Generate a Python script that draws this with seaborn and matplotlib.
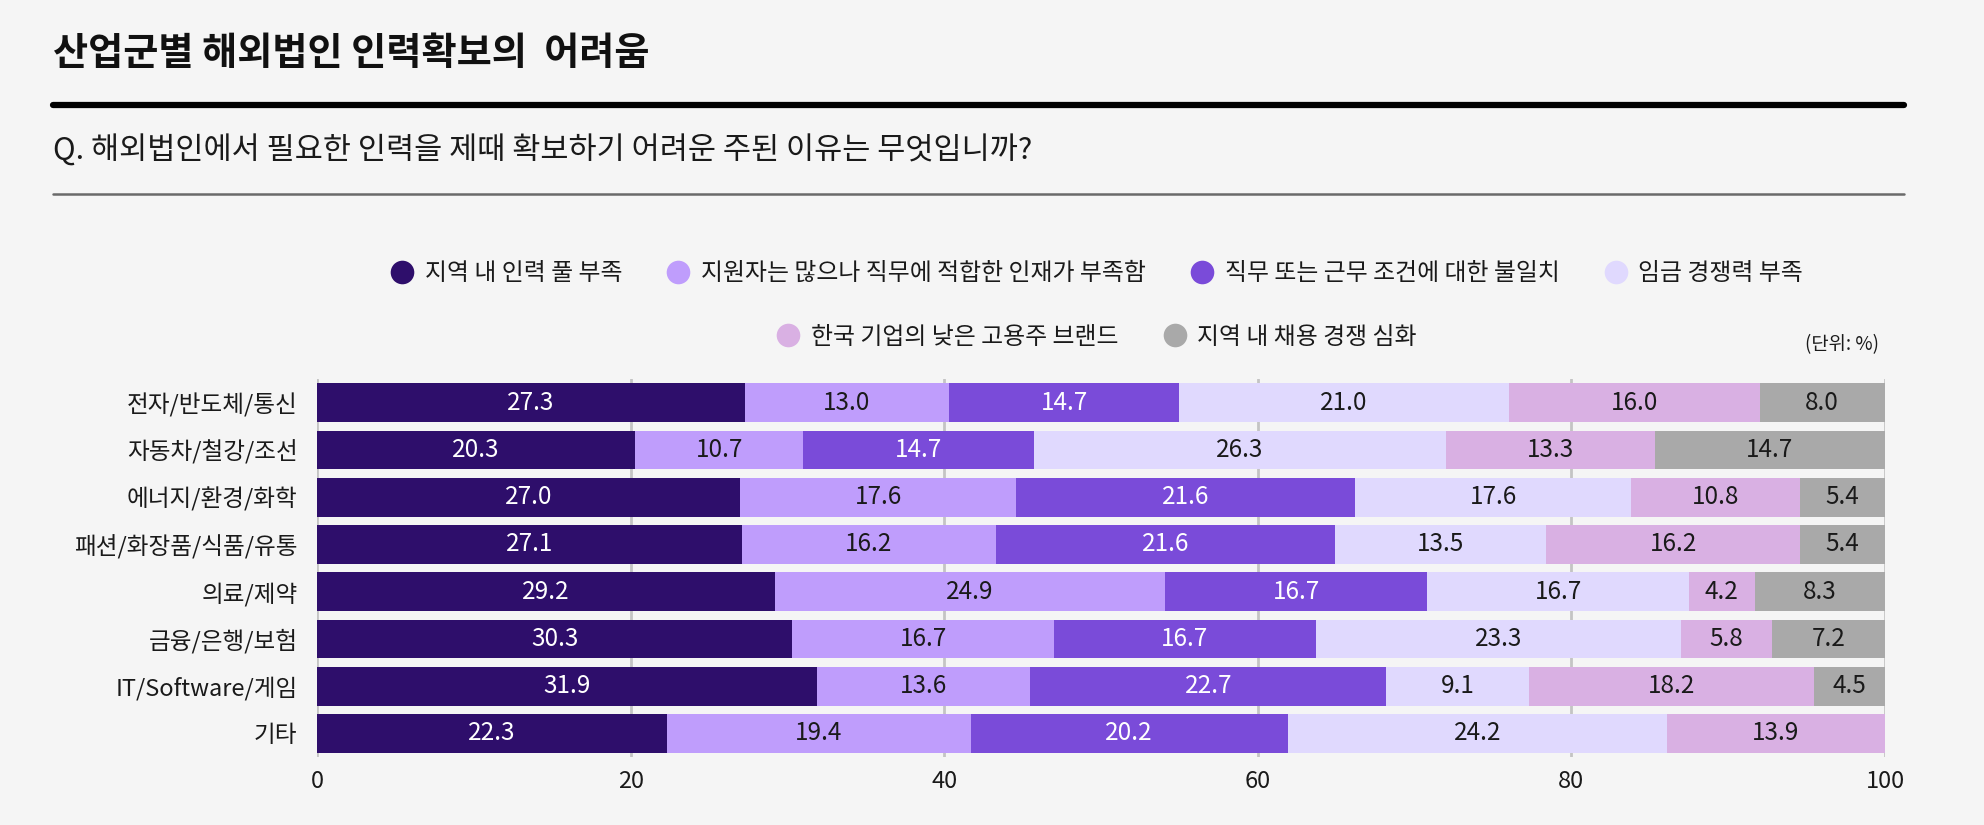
import numpy as np
import pandas as pd
import matplotlib
matplotlib.use("Agg")
import matplotlib.pyplot as plt
from matplotlib.lines import Line2D
import seaborn as sns

# 데이터
industries = ["전자/반도체/통신", "자동차/철강/조선", "에너지/환경/화학", "패션/화장품/식품/유통",
              "의료/제약", "금융/은행/보험", "IT/Software/게임", "기타"]
reasons = ["지역 내 인력 풀 부족", "지원자는 많으나 직무에 적합한 인재가 부족함",
           "직무 또는 근무 조건에 대한 불일치", "임금 경쟁력 부족",
           "한국 기업의 낮은 고용주 브랜드", "지역 내 채용 경쟁 심화"]
pool_shortage = [27.3, 20.3, 27.0, 27.1, 29.2, 30.3, 31.9, 22.3]
skill_mismatch = [13.0, 10.7, 17.6, 16.2, 24.9, 16.7, 13.6, 19.4]
job_mismatch = [14.7, 14.7, 21.6, 21.6, 16.7, 16.7, 22.7, 20.2]
wage_gap = [21.0, 26.3, 17.6, 13.5, 16.7, 23.3, 9.1, 24.2]
weak_brand = [16.0, 13.3, 10.8, 16.2, 4.2, 5.8, 18.2, 13.9]
competition = [8.0, 14.7, 5.4, 5.4, 8.3, 7.2, 4.5, 0.0]
x_ticks = [0, 20, 40, 60, 80, 100]

colors = ["#2E0E6B", "#BF9DFC", "#7A4BD9", "#E0D9FE", "#D9B0E3", "#A9A9A9"]
text_colors = ["white", "#1a1a1a", "white", "#1a1a1a", "#1a1a1a", "#1a1a1a"]

series = [pool_shortage, skill_mismatch, job_mismatch, wage_gap, weak_brand, competition]
df = pd.DataFrame({r: s for r, s in zip(reasons, series)}, index=industries)
cum = df.cumsum(axis=1)

sns.set_theme(style="white")
plt.rcParams["font.family"] = ["Noto Sans CJK KR", "DejaVu Sans"]
bg = "#F5F5F5"

fig = plt.figure(figsize=(19.84, 8.25), dpi=100, facecolor=bg)
ax = fig.add_axes([0.1598, 0.0824, 0.7903, 0.458])
ax.set_facecolor(bg)

# 누적 막대: 뒤쪽(합계가 큰) 시리즈부터 그림
for i in reversed(range(len(reasons))):
    sns.barplot(x=cum[reasons[i]].values, y=industries, orient="h", color=colors[i],
                width=0.82, saturation=1, linewidth=0, ax=ax)

for i, r in enumerate(reasons):
    for j, ind in enumerate(industries):
        v = df.loc[ind, r]
        if v <= 0:
            continue
        ax.text(cum.loc[ind, r] - v / 2, j, f"{v:.1f}", ha="center", va="center",
                fontsize=17.5, color=text_colors[i])

ax.set_xlim(0, 100)
ax.set_ylim(7.5, -0.5)
ax.set_xticks(x_ticks)
ax.set_xticklabels([str(t) for t in x_ticks], fontsize=17, color="#1a1a1a")
ax.tick_params(axis="x", length=0, pad=9)
ax.tick_params(axis="y", length=0, pad=14, labelsize=17, labelcolor="#1a1a1a")
ax.set_xlabel("")
ax.set_ylabel("")
ax.grid(axis="x", color="#C4C4C4", linewidth=2)
ax.grid(axis="y", visible=False)
ax.set_axisbelow(True)
for s in ax.spines.values():
    s.set_visible(False)

# 범례 (두 줄)
handles = [Line2D([0], [0], marker="o", linestyle="", markersize=17,
                  markerfacecolor=c, markeredgewidth=0) for c in colors]
leg1 = fig.legend(handles[:4], reasons[:4], loc="center", bbox_to_anchor=(0.553, 0.668),
                  ncol=4, frameon=False, fontsize=17.2, handlelength=0.9,
                  handletextpad=0.5, columnspacing=1.9)
leg2 = fig.legend(handles[4:], reasons[4:], loc="center", bbox_to_anchor=(0.553, 0.5915),
                  ncol=2, frameon=False, fontsize=17.2, handlelength=0.9,
                  handletextpad=0.5, columnspacing=1.9)
for leg in (leg1, leg2):
    for t in leg.get_texts():
        t.set_color("#1a1a1a")

fig.text(0.947, 0.582, "(단위: %)", ha="right", va="center", fontsize=13.5, color="#1a1a1a")

# 제목과 구분선
fig.text(0.0267, 0.935, "산업군별 해외법인 인력확보의  어려움", ha="left", va="center",
         fontsize=27.5, fontweight="bold", color="#111111")
fig.add_artist(Line2D([0.0267, 0.9595], [0.8727, 0.8727], color="#000000", linewidth=4.5))
fig.text(0.0267, 0.818, "Q. 해외법인에서 필요한 인력을 제때 확보하기 어려운 주된 이유는 무엇입니까?",
         ha="left", va="center", fontsize=22, color="#1a1a1a")
fig.add_artist(Line2D([0.0267, 0.9595], [0.7648, 0.7648], color="#6a6a6a", linewidth=1.8))

fig.savefig("out.png", dpi=100, facecolor=bg)
